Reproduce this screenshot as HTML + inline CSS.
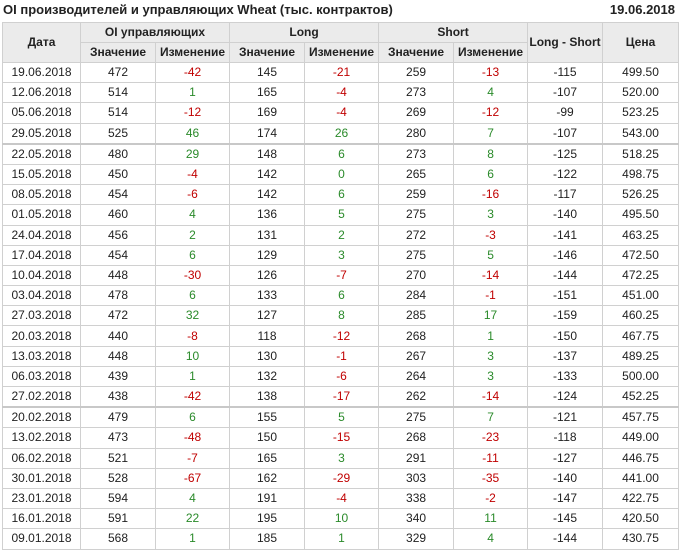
<!DOCTYPE html>
<html><head><meta charset="utf-8"><style>
body{margin:0;background:#fff;width:680px;height:548px;overflow:hidden;font-family:"Liberation Sans",Arial,sans-serif;color:#222}
.title{position:absolute;left:3px;top:2px;font-size:13px;font-weight:bold;color:#222}
.date{position:absolute;right:5px;top:2px;font-size:13px;font-weight:bold}
table{position:absolute;left:2px;top:22px;border-collapse:collapse;font-size:12px;width:676px;table-layout:fixed}
td,th{border:1px solid #d0d0d0;text-align:center;padding:0;height:19px;line-height:19px}
th{background:#ebebeb;font-weight:bold;color:#222}
td{height:19.2px}
.r{color:#c00000}.g{color:#2a8a2a}
tr.sep td{border-top:2px solid #c8c8c8}
</style></head><body>
<div class="title">OI производителей и управляющих Wheat (тыс. контрактов)</div>
<div class="date">19.06.2018</div>
<table>
<colgroup><col style="width:78px"><col style="width:75px"><col style="width:74px"><col style="width:75px"><col style="width:74px"><col style="width:75px"><col style="width:74px"><col style="width:75px"><col style="width:76px"></colgroup>
<tr><th rowspan="2">Дата</th><th colspan="2">OI управляющих</th><th colspan="2">Long</th><th colspan="2">Short</th><th rowspan="2">Long - Short</th><th rowspan="2">Цена</th></tr>
<tr><th>Значение</th><th>Изменение</th><th>Значение</th><th>Изменение</th><th>Значение</th><th>Изменение</th></tr>
<tr><td>19.06.2018</td><td>472</td><td class="r">-42</td><td>145</td><td class="r">-21</td><td>259</td><td class="r">-13</td><td>-115</td><td>499.50</td></tr>
<tr><td>12.06.2018</td><td>514</td><td class="g">1</td><td>165</td><td class="r">-4</td><td>273</td><td class="g">4</td><td>-107</td><td>520.00</td></tr>
<tr><td>05.06.2018</td><td>514</td><td class="r">-12</td><td>169</td><td class="r">-4</td><td>269</td><td class="r">-12</td><td>-99</td><td>523.25</td></tr>
<tr><td>29.05.2018</td><td>525</td><td class="g">46</td><td>174</td><td class="g">26</td><td>280</td><td class="g">7</td><td>-107</td><td>543.00</td></tr>
<tr class="sep"><td>22.05.2018</td><td>480</td><td class="g">29</td><td>148</td><td class="g">6</td><td>273</td><td class="g">8</td><td>-125</td><td>518.25</td></tr>
<tr><td>15.05.2018</td><td>450</td><td class="r">-4</td><td>142</td><td class="g">0</td><td>265</td><td class="g">6</td><td>-122</td><td>498.75</td></tr>
<tr><td>08.05.2018</td><td>454</td><td class="r">-6</td><td>142</td><td class="g">6</td><td>259</td><td class="r">-16</td><td>-117</td><td>526.25</td></tr>
<tr><td>01.05.2018</td><td>460</td><td class="g">4</td><td>136</td><td class="g">5</td><td>275</td><td class="g">3</td><td>-140</td><td>495.50</td></tr>
<tr><td>24.04.2018</td><td>456</td><td class="g">2</td><td>131</td><td class="g">2</td><td>272</td><td class="r">-3</td><td>-141</td><td>463.25</td></tr>
<tr><td>17.04.2018</td><td>454</td><td class="g">6</td><td>129</td><td class="g">3</td><td>275</td><td class="g">5</td><td>-146</td><td>472.50</td></tr>
<tr><td>10.04.2018</td><td>448</td><td class="r">-30</td><td>126</td><td class="r">-7</td><td>270</td><td class="r">-14</td><td>-144</td><td>472.25</td></tr>
<tr><td>03.04.2018</td><td>478</td><td class="g">6</td><td>133</td><td class="g">6</td><td>284</td><td class="r">-1</td><td>-151</td><td>451.00</td></tr>
<tr><td>27.03.2018</td><td>472</td><td class="g">32</td><td>127</td><td class="g">8</td><td>285</td><td class="g">17</td><td>-159</td><td>460.25</td></tr>
<tr><td>20.03.2018</td><td>440</td><td class="r">-8</td><td>118</td><td class="r">-12</td><td>268</td><td class="g">1</td><td>-150</td><td>467.75</td></tr>
<tr><td>13.03.2018</td><td>448</td><td class="g">10</td><td>130</td><td class="r">-1</td><td>267</td><td class="g">3</td><td>-137</td><td>489.25</td></tr>
<tr><td>06.03.2018</td><td>439</td><td class="g">1</td><td>132</td><td class="r">-6</td><td>264</td><td class="g">3</td><td>-133</td><td>500.00</td></tr>
<tr><td>27.02.2018</td><td>438</td><td class="r">-42</td><td>138</td><td class="r">-17</td><td>262</td><td class="r">-14</td><td>-124</td><td>452.25</td></tr>
<tr class="sep"><td>20.02.2018</td><td>479</td><td class="g">6</td><td>155</td><td class="g">5</td><td>275</td><td class="g">7</td><td>-121</td><td>457.75</td></tr>
<tr><td>13.02.2018</td><td>473</td><td class="r">-48</td><td>150</td><td class="r">-15</td><td>268</td><td class="r">-23</td><td>-118</td><td>449.00</td></tr>
<tr><td>06.02.2018</td><td>521</td><td class="r">-7</td><td>165</td><td class="g">3</td><td>291</td><td class="r">-11</td><td>-127</td><td>446.75</td></tr>
<tr><td>30.01.2018</td><td>528</td><td class="r">-67</td><td>162</td><td class="r">-29</td><td>303</td><td class="r">-35</td><td>-140</td><td>441.00</td></tr>
<tr><td>23.01.2018</td><td>594</td><td class="g">4</td><td>191</td><td class="r">-4</td><td>338</td><td class="r">-2</td><td>-147</td><td>422.75</td></tr>
<tr><td>16.01.2018</td><td>591</td><td class="g">22</td><td>195</td><td class="g">10</td><td>340</td><td class="g">11</td><td>-145</td><td>420.50</td></tr>
<tr><td>09.01.2018</td><td>568</td><td class="g">1</td><td>185</td><td class="g">1</td><td>329</td><td class="g">4</td><td>-144</td><td>430.75</td></tr>
</table>
</body></html>
